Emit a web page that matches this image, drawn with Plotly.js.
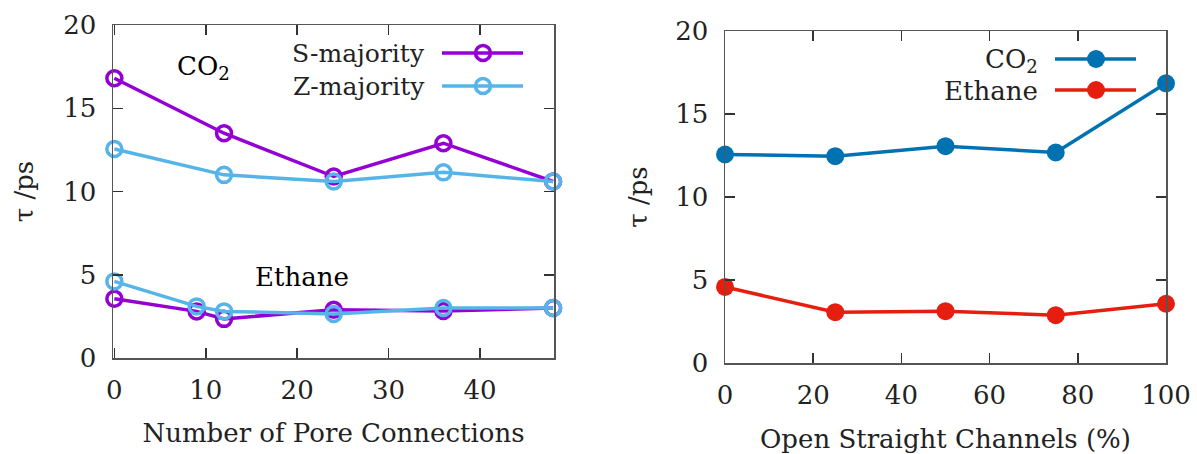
<!DOCTYPE html>
<html>
<head>
<meta charset="utf-8">
<script src="https://cdn.plot.ly/plotly-3.0.1.min.js"></script>
<style>html,body{margin:0;padding:0;background:#fff;}#chart{width:1197px;height:454px;}</style>
</head>
<body>
<div id="chart"></div>
<script>
// Left panel: Number of Pore Connections
const poreCO2X = [0, 12, 24, 36, 48];
const sMajorityCO2 = [16.8, 13.5, 10.9, 12.9, 10.6];
const zMajorityCO2 = [12.55, 11.0, 10.6, 11.15, 10.6];
const poreEthX = [0, 9, 12, 24, 36, 48];
const sMajorityEth = [3.56, 2.8, 2.35, 2.9, 2.82, 3.0];
const zMajorityEth = [4.6, 3.1, 2.8, 2.65, 3.0, 3.0];

// Right panel: Open Straight Channels (%)
const openX = [0, 25, 50, 75, 100];
const openCO2 = [12.56, 12.46, 13.06, 12.68, 16.85];
const openEthane = [4.58, 3.06, 3.12, 2.88, 3.57];

const leftTicksX = [0, 10, 20, 30, 40];
const rightTicksX = [0, 20, 40, 60, 80, 100];
const ticksY = [0, 5, 10, 15, 20];

const W = 1197, H = 454;
const px = v => v / W;
const py = v => 1 - v / H;

const PURPLE = '#9400d3';
const LBLUE = '#56b4e9';
const BLUE = '#0072b2';
const RED = '#e51e10';
const FONT = 'DejaVu Serif, serif';
const TXT = '#222';

function openTrace(x, y, color, xa, ya) {
  return {x: x, y: y, type: 'scatter', mode: 'lines+markers', xaxis: xa, yaxis: ya,
    line: {color: color, width: 3.5},
    marker: {symbol: 'circle-open', size: 15, color: color, line: {width: 3.5, color: color}},
    showlegend: false, cliponaxis: false, hoverinfo: 'x+y'};
}
function fullTrace(x, y, color, xa, ya) {
  return {x: x, y: y, type: 'scatter', mode: 'lines+markers', xaxis: xa, yaxis: ya,
    line: {color: color, width: 3.5},
    marker: {symbol: 'circle', size: 18, color: color},
    showlegend: false, cliponaxis: false, hoverinfo: 'x+y'};
}

const data = [
  openTrace(poreCO2X, sMajorityCO2, PURPLE, 'x', 'y'),
  openTrace(poreEthX, sMajorityEth, PURPLE, 'x', 'y'),
  openTrace(poreCO2X, zMajorityCO2, LBLUE, 'x', 'y'),
  openTrace(poreEthX, zMajorityEth, LBLUE, 'x', 'y'),
  fullTrace(openX, openCO2, BLUE, 'x2', 'y2'),
  fullTrace(openX, openEthane, RED, 'x2', 'y2')
];

const axCommon = {
  showgrid: false, zeroline: false, showline: true, linecolor: '#555', linewidth: 1.5,
  mirror: 'ticks', ticks: 'inside', ticklen: 10, tickwidth: 1.5, tickcolor: '#333',
  tickfont: {family: FONT, size: 26, color: TXT}
};

const layout = {
  width: W, height: H,
  margin: {l: 0, r: 0, t: 0, b: 0},
  paper_bgcolor: '#fff', plot_bgcolor: '#fff',
  showlegend: false,
  xaxis: Object.assign({}, axCommon, {
    domain: [px(113), px(554)], range: [-0.15, 48.1], tickvals: leftTicksX,
    anchor: 'y', ticklabelstandoff: 8,
    title: {text: 'Number of Pore Connections', font: {family: FONT, size: 26, color: TXT}, standoff: 20}
  }),
  yaxis: Object.assign({}, axCommon, {
    domain: [py(358), py(25)], range: [0, 20], tickvals: ticksY, anchor: 'x',
    ticklabelstandoff: 10,
    title: {text: 'τ /ps', font: {family: FONT, size: 26, color: TXT}, standoff: 22}
  }),
  xaxis2: Object.assign({}, axCommon, {
    domain: [px(725), px(1166)], range: [0, 100], tickvals: rightTicksX,
    anchor: 'y2', ticklabelstandoff: 8,
    title: {text: 'Open Straight Channels (%)', font: {family: FONT, size: 26, color: TXT}, standoff: 22}
  }),
  yaxis2: Object.assign({}, axCommon, {
    domain: [py(363), py(31)], range: [0, 20], tickvals: ticksY, anchor: 'x2',
    ticklabelstandoff: 10,
    title: {text: 'τ /ps', font: {family: FONT, size: 26, color: TXT}, standoff: 20}
  }),
  annotations: [
    {xref: 'paper', yref: 'paper', x: px(175), y: py(67), xanchor: 'left', yanchor: 'middle',
     text: 'CO<sub>2</sub>', showarrow: false, font: {family: FONT, size: 26, color: '#000'}},
    {xref: 'paper', yref: 'paper', x: px(253), y: py(277), xanchor: 'left', yanchor: 'middle',
     text: 'Ethane', showarrow: false, font: {family: FONT, size: 26, color: '#000'}},
    {xref: 'paper', yref: 'paper', x: px(427), y: py(53), xanchor: 'right', yanchor: 'middle',
     text: 'S-majority', showarrow: false, font: {family: FONT, size: 25, color: TXT}},
    {xref: 'paper', yref: 'paper', x: px(427), y: py(86), xanchor: 'right', yanchor: 'middle',
     text: 'Z-majority', showarrow: false, font: {family: FONT, size: 25, color: TXT}},
    {xref: 'paper', yref: 'paper', x: px(1040), y: py(60), xanchor: 'right', yanchor: 'middle',
     text: 'CO<sub>2</sub>', showarrow: false, font: {family: FONT, size: 26, color: TXT}},
    {xref: 'paper', yref: 'paper', x: px(1040), y: py(91), xanchor: 'right', yanchor: 'middle',
     text: 'Ethane', showarrow: false, font: {family: FONT, size: 26, color: TXT}}
  ],
  shapes: [
    {type: 'line', xref: 'paper', yref: 'paper', x0: px(442), x1: px(523), y0: py(53), y1: py(53), line: {color: PURPLE, width: 3.5}},
    {type: 'circle', xref: 'paper', yref: 'paper', x0: px(475.5), x1: px(490.5), y0: py(45.5), y1: py(60.5), line: {color: PURPLE, width: 3.5}, fillcolor: 'rgba(0,0,0,0)'},
    {type: 'line', xref: 'paper', yref: 'paper', x0: px(442), x1: px(523), y0: py(86), y1: py(86), line: {color: LBLUE, width: 3.5}},
    {type: 'circle', xref: 'paper', yref: 'paper', x0: px(475.5), x1: px(490.5), y0: py(78.5), y1: py(93.5), line: {color: LBLUE, width: 3.5}, fillcolor: 'rgba(0,0,0,0)'},
    {type: 'line', xref: 'paper', yref: 'paper', x0: px(1055), x1: px(1136), y0: py(59), y1: py(59), line: {color: BLUE, width: 3.5}},
    {type: 'circle', xref: 'paper', yref: 'paper', x0: px(1087), x1: px(1105), y0: py(50), y1: py(68), line: {color: BLUE, width: 0}, fillcolor: BLUE},
    {type: 'line', xref: 'paper', yref: 'paper', x0: px(1055), x1: px(1136), y0: py(90), y1: py(90), line: {color: RED, width: 3.5}},
    {type: 'circle', xref: 'paper', yref: 'paper', x0: px(1087), x1: px(1105), y0: py(81), y1: py(99), line: {color: RED, width: 0}, fillcolor: RED}
  ]
};

Plotly.newPlot('chart', data, layout, {displayModeBar: false, staticPlot: true});
</script>
</body>
</html>
